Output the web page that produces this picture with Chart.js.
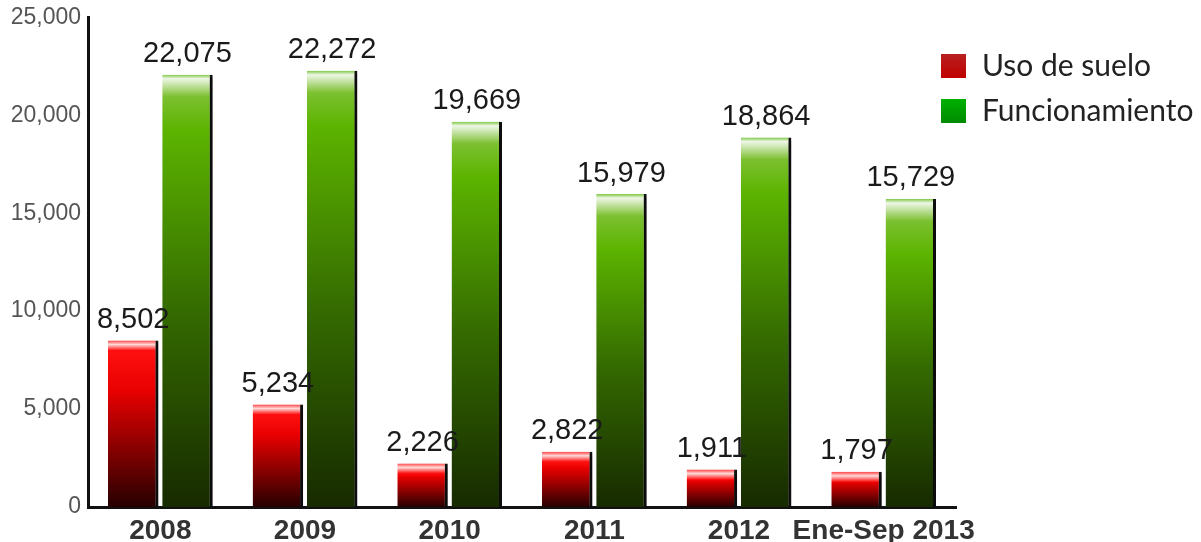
<!DOCTYPE html>
<html>
<head>
<meta charset="utf-8">
<script src="https://cdn.jsdelivr.net/npm/chart.js@4.4.0/dist/chart.umd.min.js"></script>
<style>
  html, body { margin: 0; padding: 0; background: #fff; }
  .wrap { position: relative; width: 1201px; height: 542px; }
  .legend { position: absolute; left: 941px; top: 46px; font-family: Lato, "Noto Sans", sans-serif; font-size: 30px; color: #222; }
  .legend div { height: 45px; line-height: 36px; white-space: nowrap; }
  .legend span { display: inline-block; width: 25px; height: 24px; margin-right: 16px; vertical-align: -2px; }
</style>
</head>
<body>
<div class="wrap">
  <canvas id="grafico" width="1201" height="542"></canvas>
  <div class="legend" id="leyenda"></div>
</div>
<script>
// datos
const categorias = ['2008', '2009', '2010', '2011', '2012', 'Ene-Sep 2013'];
const usoSuelo = [8502, 5234, 2226, 2822, 1911, 1797];
const funcionamiento = [22075, 22272, 19669, 15979, 18864, 15729];
const ticksY = [0, 5000, 10000, 15000, 20000, 25000];
const nombres = ['Uso de suelo', 'Funcionamiento'];

// leyenda en html (texto real)
const leyenda = document.getElementById('leyenda');
const cuadros = ['linear-gradient(#b82020,#c00000)', 'linear-gradient(#00b000,#008a00)'];
nombres.forEach((n, i) => {
  const d = document.createElement('div');
  d.innerHTML = '<span style="background:' + cuadros[i] + '"></span>' + n;
  leyenda.appendChild(d);
});

// degradado por barra, calculado con la escala y
function degradado(tipo) {
  return function(ctx) {
    const chart = ctx.chart;
    if (!chart.chartArea || ctx.raw == null) return tipo === 'rojo' ? '#d00000' : '#4a9000';
    const y = chart.scales.y;
    const arriba = y.getPixelForValue(ctx.raw);
    const abajo = y.getPixelForValue(0);
    const h = Math.max(abajo - arriba, 1);
    const g = chart.ctx.createLinearGradient(0, arriba, 0, abajo);
    const p = Math.min(4 / h, 0.3);
    const q = Math.min(22 / h, 0.5);
    if (tipo === 'rojo') {
      g.addColorStop(0, '#ff4040');
      g.addColorStop(p, '#ffd8d8');
      g.addColorStop(Math.min(p * 2.5, 0.45), '#ff1010');
      g.addColorStop(0.3, '#e80000');
      g.addColorStop(1, '#260000');
    } else {
      g.addColorStop(0, '#7cc840');
      g.addColorStop(p, '#eef6e6');
      g.addColorStop(q, '#7cc030');
      g.addColorStop(Math.min(q * 2.5, 0.6), '#5cb400');
      g.addColorStop(0.55, '#346a00');
      g.addColorStop(1, '#172a00');
    }
    return g;
  };
}

// sombra a la derecha de las barras
const sombra = {
  id: 'sombra',
  beforeDatasetsDraw(chart) {
    const c = chart.ctx;
    c.save();
    c.shadowColor = 'rgba(0,0,0,0.35)';
    c.shadowBlur = 4;
    c.shadowOffsetX = 4;
    c.shadowOffsetY = 2;
  },
  afterDatasetsDraw(chart) {
    chart.ctx.restore();
  }
};

// etiquetas con el valor encima de cada barra
const etiquetas = {
  id: 'etiquetas',
  afterDatasetsDraw(chart) {
    const c = chart.ctx;
    c.save();
    c.font = '29px Arial, "Liberation Sans", sans-serif';
    c.fillStyle = '#1a1a1a';
    c.textAlign = 'center';
    c.textBaseline = 'bottom';
    chart.data.datasets.forEach((ds, i) => {
      chart.getDatasetMeta(i).data.forEach((bar, j) => {
        c.fillText(ds.data[j].toLocaleString('en-US'), bar.x, bar.y - 6);
      });
    });
    c.restore();
  }
};

new Chart(document.getElementById('grafico'), {
  type: 'bar',
  data: {
    labels: categorias,
    datasets: [{
      label: nombres[0],
      data: usoSuelo,
      backgroundColor: degradado('rojo'),
      borderColor: '#111',
      borderWidth: { right: 3, top: 0, left: 0, bottom: 0 },
      borderSkipped: false,
      categoryPercentage: 0.75,
      barPercentage: 0.93
    }, {
      label: nombres[1],
      data: funcionamiento,
      backgroundColor: degradado('verde'),
      borderColor: '#111',
      borderWidth: { right: 3, top: 0, left: 0, bottom: 0 },
      borderSkipped: false,
      categoryPercentage: 0.75,
      barPercentage: 0.93
    }]
  },
  options: {
    responsive: false,
    animation: false,
    layout: { padding: { top: 7, right: 245, left: 0, bottom: 0 } },
    plugins: {
      legend: { display: false },
      tooltip: { enabled: false }
    },
    scales: {
      x: {
        grid: { display: false, drawTicks: false },
        border: { color: '#111', width: 3 },
        ticks: {
          color: '#333',
          padding: 7,
          maxRotation: 0,
          minRotation: 0,
          autoSkip: false,
          font: { family: 'Arial, "Liberation Sans", sans-serif', size: 28, weight: 'bold' }
        },
        afterFit(s) { s.height = 35; }
      },
      y: {
        min: 0,
        max: 25000,
        grid: { display: false, drawTicks: false },
        border: { color: '#111', width: 3 },
        afterBuildTicks(s) { s.ticks = ticksY.map(v => ({ value: v })); },
        ticks: {
          color: '#555',
          padding: 7,
          font: { family: 'Arial, "Liberation Sans", sans-serif', size: 23, lineHeight: 0.9 },
          callback: v => v.toLocaleString('en-US')
        },
        afterFit(s) { s.width = 88; }
      }
    }
  },
  plugins: [sombra, etiquetas]
});
</script>
</body>
</html>
